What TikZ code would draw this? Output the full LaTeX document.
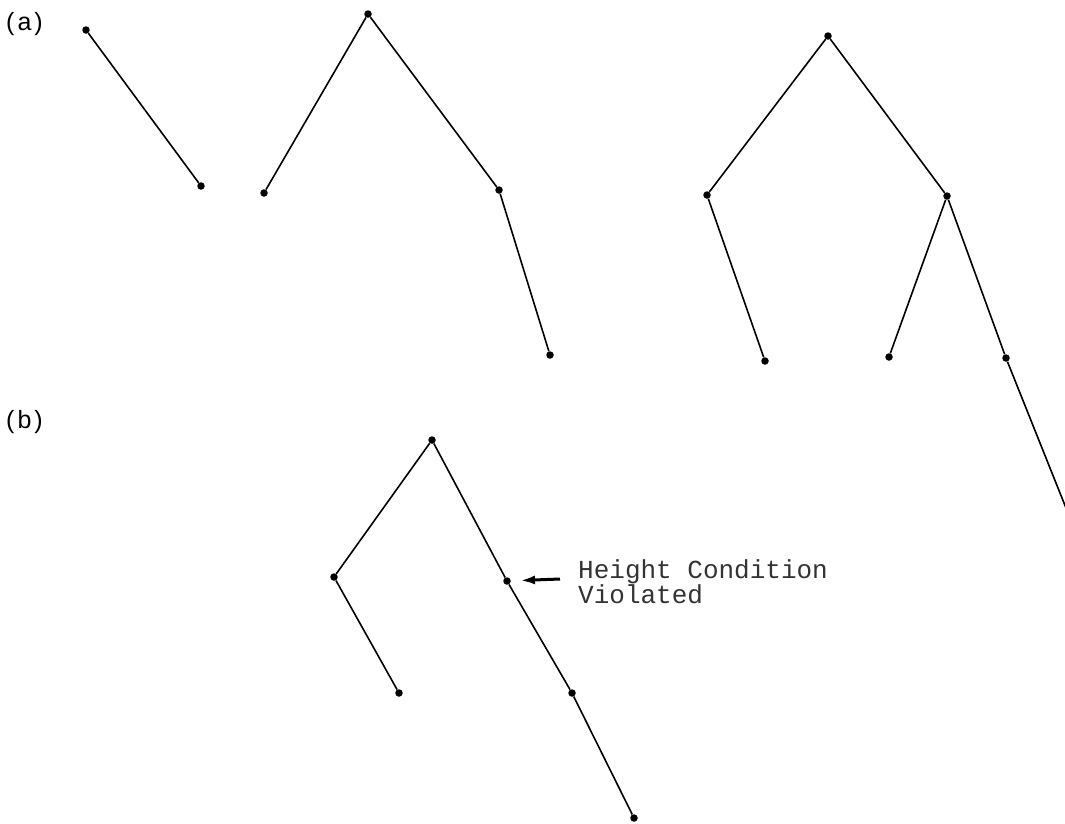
\documentclass[tikz,border=0pt]{standalone}
\usepackage{fontspec}
\usetikzlibrary{arrows.meta}
\newfontfamily\typewriter{Liberation Mono}
\newfontfamily\labelfont{Liberation Sans}
\tikzset{
  vtx/.style={circle,fill=black,inner sep=0pt,minimum size=7.5pt},
  edge/.style={draw=black,line width=1.6pt},
  part/.style={font=\labelfont\fontsize{25}{28}\selectfont,anchor=north west,inner sep=0pt},
  note/.style={font=\typewriter\fontsize{26}{23}\selectfont,align=left,anchor=north west,inner sep=0pt,text=black!80},
  pointer/.style={-{Latex[length=15pt,width=9pt]},line width=3pt,shorten >=9pt}
}
\begin{document}
\begin{tikzpicture}[x=1pt,y=-1pt]
  \useasboundingbox (0,0) rectangle (1065,823);
  % labels
  \node[part] (pa) at (6,12) {(\kern3pt a\kern3pt)};
  \node[part] (pb) at (6,410) {(\kern3pt b\kern3pt)};
  % (a) first tree
  \node[vtx] (p1) at (86,30) {};
  \node[vtx] (p2) at (201,186) {};
  \draw[edge] (p1) -- (p2);
  % (a) second tree
  \node[vtx] (q1) at (368,14) {};
  \node[vtx] (q2) at (264,193) {};
  \node[vtx] (q3) at (499,190) {};
  \node[vtx] (q4) at (550,355) {};
  \draw[edge] (q2) -- (q1) -- (q3) -- (q4);
  % (a) third tree
  \node[vtx] (r1) at (828,36) {};
  \node[vtx] (r2) at (707,195) {};
  \node[vtx] (r3) at (947,196) {};
  \node[vtx] (r4) at (765,361) {};
  \node[vtx] (r5) at (889,357) {};
  \node[vtx] (r6) at (1006,358) {};
  \coordinate (r7) at (1066,508);
  \draw[edge] (r4) -- (r2) -- (r1) -- (r3) -- (r5);
  \draw[edge] (r3) -- (r6) -- (r7);
  % (b) tree
  \node[vtx] (b1) at (432,440) {};
  \node[vtx] (b2) at (334,577) {};
  \node[vtx] (b3) at (507,581) {};
  \node[vtx] (b4) at (399,693) {};
  \node[vtx] (b5) at (572,693) {};
  \node[vtx] (b6) at (634,818) {};
  \draw[edge] (b4) -- (b2) -- (b1) -- (b3) -- (b5) -- (b6);
  % annotation
  \node[note] (msg) at (578,559) {Height Condition\\Violated};
  \coordinate (tail) at (560,579);
  \draw[pointer] (tail) -- (b3);
\end{tikzpicture}
\end{document}
